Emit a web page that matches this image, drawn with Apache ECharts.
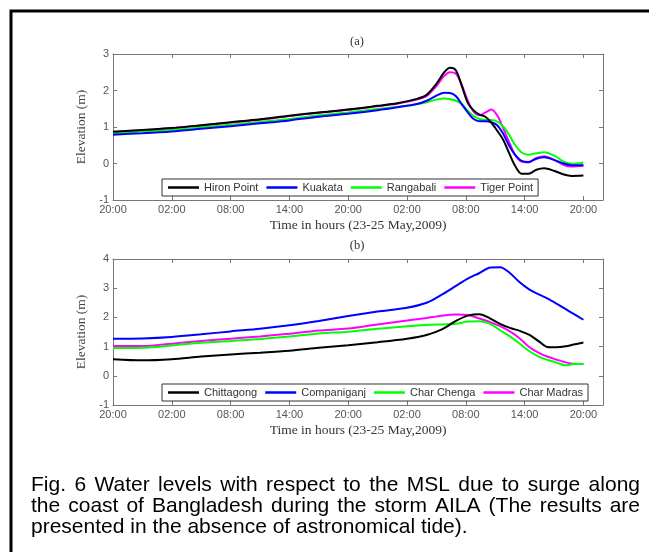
<!DOCTYPE html>
<html><head><meta charset="utf-8">
<script src="https://cdn.jsdelivr.net/npm/echarts@6/dist/echarts.min.js"></script>
<style>html,body{margin:0;padding:0;background:#fff;} #c{width:649px;height:552px;}</style>
</head><body><div id="c"></div>
<script>
// ---- data ----
const xTickLabels = ['20:00','02:00','08:00','14:00','20:00','02:00','08:00','14:00','20:00'];

const hoursA = [0,3,6,9,12,15,18,21,24,27,29,31,32,33,33.8,34.4,35,35.6,36.2,36.8,37.4,38,38.6,39.2,39.8,40.4,41,41.7,42.4,43.2,44,45,46,46.8,48];
const hironPoint = [0.87,0.92,0.97,1.05,1.13,1.21,1.31,1.40,1.48,1.58,1.65,1.77,1.88,2.18,2.50,2.62,2.55,2.12,1.66,1.45,1.34,1.28,1.12,0.90,0.66,0.30,-0.05,-0.28,-0.28,-0.17,-0.13,-0.20,-0.30,-0.34,-0.33];
const kuakata    = [0.79,0.83,0.88,0.95,1.02,1.10,1.18,1.28,1.36,1.46,1.54,1.63,1.72,1.86,1.94,1.93,1.84,1.62,1.40,1.22,1.16,1.16,1.13,1.05,0.82,0.50,0.25,0.07,0.04,0.13,0.17,0.10,0.00,-0.05,-0.05];
const rangabali  = [0.83,0.88,0.92,0.99,1.06,1.14,1.22,1.32,1.40,1.49,1.55,1.62,1.68,1.75,1.78,1.76,1.72,1.62,1.45,1.30,1.22,1.19,1.19,1.15,1.02,0.80,0.52,0.30,0.24,0.28,0.31,0.22,0.05,-0.01,0.03];
const tigerPoint = [0.86,0.91,0.97,1.04,1.12,1.20,1.30,1.39,1.47,1.57,1.64,1.75,1.85,2.12,2.40,2.50,2.46,2.15,1.72,1.42,1.32,1.40,1.48,1.32,0.98,0.60,0.25,0.05,0.03,0.15,0.20,0.10,-0.04,-0.08,-0.06];

const hoursB = [0,3,6,9,12,15,18,21,24,27,30,32,33.5,35,36.2,37.4,38.5,39.5,40.5,41.5,42.5,43.5,44.3,45.2,46.2,47,48];
const chittagong  = [0.57,0.53,0.57,0.66,0.73,0.79,0.86,0.96,1.05,1.15,1.27,1.40,1.58,1.88,2.06,2.11,1.96,1.78,1.64,1.54,1.40,1.17,0.99,0.98,1.01,1.07,1.14];
const companiganj = [1.27,1.28,1.33,1.42,1.52,1.61,1.73,1.88,2.05,2.20,2.33,2.50,2.77,3.08,3.33,3.52,3.71,3.72,3.52,3.20,2.95,2.78,2.65,2.48,2.28,2.12,1.92];
const charChenga  = [0.95,0.96,1.04,1.13,1.19,1.26,1.35,1.45,1.51,1.61,1.70,1.74,1.76,1.78,1.86,1.87,1.78,1.56,1.35,1.10,0.84,0.65,0.55,0.46,0.36,0.40,0.40];
const charMadras  = [1.02,1.02,1.10,1.19,1.27,1.35,1.44,1.55,1.62,1.76,1.89,1.98,2.06,2.10,2.08,1.96,1.84,1.70,1.52,1.28,0.98,0.78,0.66,0.56,0.46,0.41,0.40];

const namesA = ['Hiron Point','Kuakata','Rangabali','Tiger Point'];
const namesB = ['Chittagong','Companiganj','Char Chenga','Char Madras'];
const colors = ['#000000','#0000ff','#00ff00','#ff00ff'];

const captionLines = [
  'Fig. 6 Water levels with respect to the MSL due to surge along',
  'the coast of Bangladesh during the storm AILA (The results are',
  'presented in the absence of astronomical tide).'
];

// ---- chart ----
const chart = echarts.init(document.getElementById('c'), null, {renderer:'canvas'});
const tickFont = {fontFamily:'Liberation Sans', fontSize:11, color:'#555'};
const serif = 'Liberation Serif';
const axisGray = '#777';

function bottomX(gi){
  return {type:'value', gridIndex:gi, min:0, max:50, interval:6, position:'bottom',
    name:'Time in hours (23-25 May,2009)', nameLocation:'middle', nameGap:18,
    nameTextStyle:{fontFamily:serif, fontSize:13.5, color:'#333'},
    axisLine:{show:true, onZero:false, lineStyle:{color:axisGray, width:1}},
    axisTick:{show:true, inside:true, length:4, lineStyle:{color:axisGray}},
    axisLabel:Object.assign({margin:4, formatter:v=>{const i=v/6; return Number.isInteger(i)?(xTickLabels[i]||''):'';}, showMinLabel:true, showMaxLabel:true}, tickFont),
    splitLine:{show:false}};
}
function topX(gi){
  return {type:'value', gridIndex:gi, min:0, max:50, interval:6, position:'top',
    axisLine:{show:true, onZero:false, lineStyle:{color:axisGray, width:1}},
    axisTick:{show:true, inside:true, length:4, lineStyle:{color:axisGray}},
    axisLabel:{show:false}, splitLine:{show:false}};
}
function leftY(gi, max){
  return {type:'value', gridIndex:gi, min:-1, max:max, interval:1, position:'left',
    name:'Elevation (m)', nameLocation:'middle', nameGap:19, nameRotate:90,
    nameTextStyle:{fontFamily:serif, fontSize:13.5, color:'#444'},
    axisLine:{show:true, onZero:false, lineStyle:{color:axisGray, width:1}},
    axisTick:{show:true, inside:true, length:4, lineStyle:{color:axisGray}},
    axisLabel:Object.assign({margin:4, showMinLabel:true, showMaxLabel:true}, tickFont),
    splitLine:{show:false}};
}
function rightY(gi, max){
  return {type:'value', gridIndex:gi, min:-1, max:max, interval:1, position:'right',
    axisLine:{show:true, onZero:false, lineStyle:{color:axisGray, width:1}},
    axisTick:{show:true, inside:true, length:4, lineStyle:{color:axisGray}},
    axisLabel:{show:false}, splitLine:{show:false}};
}
function mk(name, hours, vals, ci, xi, yi){
  return {name, type:'line', xAxisIndex:xi, yAxisIndex:yi, symbol:'none', smooth:0.3,
    data:hours.map((h,i)=>[h, vals[i]]), lineStyle:{color:colors[ci], width:2}, itemStyle:{color:colors[ci]},
    z:10-ci, animation:false};
}
function legendCfg(names, top){
  return {data:names, left:162, top:top, orient:'horizontal', icon:'rect', itemWidth:31, itemHeight:2.5,
    itemGap:8, padding:[3,5,3,6], borderColor:'#333', borderWidth:1, backgroundColor:'#fff', borderRadius:0,
    textStyle:{fontFamily:'Liberation Sans', fontSize:11, color:'#333'}, selectedMode:false};
}

// caption justify
const mctx = document.createElement('canvas').getContext('2d');
const capFont = 21, capFam = 'Liberation Sans';
function captionEls(text, y, x0, x1, justify){
  mctx.font = capFont + 'px "' + capFam + '"';
  const words = text.split(' ');
  const w = words.map(s=>mctx.measureText(s).width);
  const total = w.reduce((a,b)=>a+b,0);
  const gap = justify ? (x1-x0-total)/(words.length-1) : mctx.measureText(' ').width;
  let x = x0; const out=[];
  words.forEach((s,i)=>{ out.push({type:'text', x:x, y:y, silent:true,
    style:{text:s, fontSize:capFont, fontFamily:capFam, fill:'#000', align:'left', verticalAlign:'middle'}}); x += w[i]+gap; });
  return out;
}

const graphics = [
  {type:'polyline', shape:{points:[[11,552],[11,11],[649,11]]}, style:{stroke:'#000', lineWidth:3, fill:null}, silent:true},
  {type:'text', x:357, y:42, style:{text:'(a)', fontFamily:serif, fontSize:12.5, fill:'#333', align:'center', verticalAlign:'middle'}},
  {type:'text', x:357, y:246, style:{text:'(b)', fontFamily:serif, fontSize:12.5, fill:'#333', align:'center', verticalAlign:'middle'}}
].concat(captionEls(captionLines[0], 485, 31, 640, true))
 .concat(captionEls(captionLines[1], 506, 31, 640, true))
 .concat(captionEls(captionLines[2], 527, 31, 640, false));

const option = {
  animation:false,
  backgroundColor:'#fff',
  grid:[{left:113, top:54, width:490, height:146, containLabel:false},
        {left:113, top:259, width:490, height:146, containLabel:false}],
  xAxis:[bottomX(0), topX(0), bottomX(1), topX(1)],
  yAxis:[leftY(0,3), rightY(0,3), leftY(1,4), rightY(1,4)],
  legend:[legendCfg(namesA,179), legendCfg(namesB,384)],
  series:[
    mk(namesA[0], hoursA, hironPoint, 0, 0, 0),
    mk(namesA[1], hoursA, kuakata, 1, 0, 0),
    mk(namesA[2], hoursA, rangabali, 2, 0, 0),
    mk(namesA[3], hoursA, tigerPoint, 3, 0, 0),
    mk(namesB[0], hoursB, chittagong, 0, 2, 2),
    mk(namesB[1], hoursB, companiganj, 1, 2, 2),
    mk(namesB[2], hoursB, charChenga, 2, 2, 2),
    mk(namesB[3], hoursB, charMadras, 3, 2, 2)
  ],
  graphic:graphics
};
chart.setOption(option);
</script></body></html>
